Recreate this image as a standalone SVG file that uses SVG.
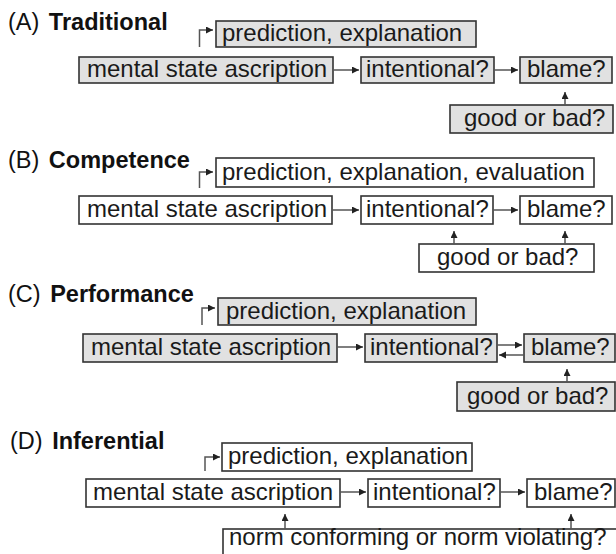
<svg xmlns="http://www.w3.org/2000/svg" width="616" height="554" viewBox="0 0 616 554">
  <style>
    .bg { fill: #ffffff; }
    .box { stroke: #333333; stroke-width: 1.6; }
    .gray { fill: #e1e1e1; }
    .white { fill: #ffffff; }
    .label { font-family: "Liberation Sans", Arial, sans-serif; font-size: 24px; fill: #1a1a1a; }
    .title { font-family: "Liberation Sans", Arial, sans-serif; font-size: 23.5px; fill: #111111; }
    .title .b { font-weight: bold; }
    .conn { fill: none; stroke: #555555; stroke-width: 1.5; marker-end: url(#head); }
  </style>
  <defs>
    <marker id="head" markerUnits="userSpaceOnUse" markerWidth="8" markerHeight="8" refX="7" refY="3.5" orient="auto">
      <path d="M0,0 L7,3.5 L0,7 Z" fill="#222222"/>
    </marker>
  </defs>

  <rect class="bg" x="0" y="0" width="616" height="554"/>

  <!-- Section titles -->
  <text class="title" x="8" y="30">(A) <tspan class="b" dx="3">Traditional</tspan></text>
  <text class="title" x="8" y="168">(B) <tspan class="b" dx="3">Competence</tspan></text>
  <text class="title" x="8" y="302">(C) <tspan class="b" dx="3">Performance</tspan></text>
  <text class="title" x="10" y="449">(D) <tspan class="b" dx="3">Inferential</tspan></text>

  <!-- (A) Traditional -->
  <g id="a-prediction">
    <rect class="box gray" x="216" y="21" width="260" height="26"/>
    <text class="label" x="222" y="41">prediction, explanation</text>
  </g>
  <g id="a-mental">
    <rect class="box gray" x="79" y="57" width="254" height="26"/>
    <text class="label" x="87" y="77">mental state ascription</text>
  </g>
  <g id="a-intentional">
    <rect class="box gray" x="361" y="57" width="133" height="26"/>
    <text class="label" x="366" y="77">intentional?</text>
  </g>
  <g id="a-blame">
    <rect class="box gray" x="520" y="57" width="92" height="26"/>
    <text class="label" x="527" y="77">blame?</text>
  </g>
  <g id="a-goodbad">
    <rect class="box gray" x="450" y="105" width="163" height="28"/>
    <text class="label" x="464" y="126">good or bad?</text>
  </g>

  <!-- (B) Competence -->
  <g id="b-prediction">
    <rect class="box white" x="216" y="158" width="378" height="29"/>
    <text class="label" x="222" y="180">prediction, explanation, evaluation</text>
  </g>
  <g id="b-mental">
    <rect class="box white" x="79" y="196" width="253" height="28"/>
    <text class="label" x="87" y="217">mental state ascription</text>
  </g>
  <g id="b-intentional">
    <rect class="box white" x="361" y="196" width="132" height="28"/>
    <text class="label" x="366" y="217">intentional?</text>
  </g>
  <g id="b-blame">
    <rect class="box white" x="520" y="196" width="92" height="28"/>
    <text class="label" x="527" y="217">blame?</text>
  </g>
  <g id="b-goodbad">
    <rect class="box white" x="419" y="244" width="175" height="28"/>
    <text class="label" x="437" y="265">good or bad?</text>
  </g>

  <!-- (C) Performance -->
  <g id="c-prediction">
    <rect class="box gray" x="218" y="298" width="258" height="27"/>
    <text class="label" x="226" y="319">prediction, explanation</text>
  </g>
  <g id="c-mental">
    <rect class="box gray" x="83" y="334" width="254" height="28"/>
    <text class="label" x="91" y="355">mental state ascription</text>
  </g>
  <g id="c-intentional">
    <rect class="box gray" x="365" y="334" width="132" height="28"/>
    <text class="label" x="370" y="355">intentional?</text>
  </g>
  <g id="c-blame">
    <rect class="box gray" x="524" y="334" width="91" height="28"/>
    <text class="label" x="531" y="355">blame?</text>
  </g>
  <g id="c-goodbad">
    <rect class="box gray" x="457" y="382" width="158" height="29"/>
    <text class="label" x="467" y="404">good or bad?</text>
  </g>

  <!-- (D) Inferential -->
  <g id="d-prediction">
    <rect class="box white" x="222" y="443" width="250" height="28"/>
    <text class="label" x="228" y="464">prediction, explanation</text>
  </g>
  <g id="d-mental">
    <rect class="box white" x="86" y="479" width="254" height="28"/>
    <text class="label" x="93" y="500">mental state ascription</text>
  </g>
  <g id="d-intentional">
    <rect class="box white" x="368" y="479" width="132" height="28"/>
    <text class="label" x="373" y="500">intentional?</text>
  </g>
  <g id="d-blame">
    <rect class="box white" x="527" y="479" width="88" height="28"/>
    <text class="label" x="534" y="500">blame?</text>
  </g>
  <g id="d-norm">
    <rect class="box white" x="223" y="529" width="400" height="40"/>
    <text class="label" x="229" y="545">norm conforming or norm violating?</text>
  </g>

  <!-- Connectors -->
  <g id="connectors">
    <!-- (A) -->
    <path class="conn" d="M199.5,47 V30 H213"/>
    <path class="conn" d="M333,70 H359"/>
    <path class="conn" d="M494,70 H518"/>
    <path class="conn" d="M565,105 V92"/>
    <!-- (B) -->
    <path class="conn" d="M199.5,188 V172 H213"/>
    <path class="conn" d="M332,210 H359"/>
    <path class="conn" d="M493,210 H518"/>
    <path class="conn" d="M454,244 V231"/>
    <path class="conn" d="M565,244 V231"/>
    <!-- (C) -->
    <path class="conn" d="M202,325 V308 H215"/>
    <path class="conn" d="M337,347 H363"/>
    <path class="conn" d="M497,345 H522"/>
    <path class="conn" d="M524,355 H499"/>
    <path class="conn" d="M567,382 V369"/>
    <!-- (D) -->
    <path class="conn" d="M205,471 V457 H220"/>
    <path class="conn" d="M340,492 H366"/>
    <path class="conn" d="M500,492 H525"/>
    <path class="conn" d="M285,529 V514"/>
    <path class="conn" d="M571,529 V514"/>
  </g>
</svg>
